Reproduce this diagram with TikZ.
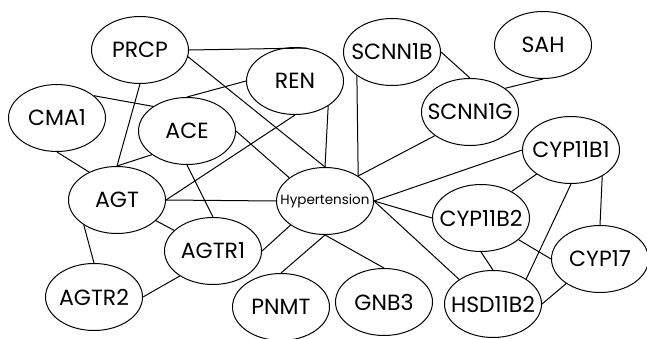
\documentclass[tikz,border=0pt]{standalone}
\usepackage{fontspec}
\usetikzlibrary{shapes.geometric}
\newfontfamily\gothic{Poppins}

\begin{document}
\begin{tikzpicture}[
		x=1pt, y=-1pt,
		gene/.style={ellipse, draw, line width=1pt, minimum width=97pt, minimum height=67pt, inner xsep=-20pt, inner ysep=0pt, font={\gothic\fontsize{22}{25}\selectfont}},
		disease/.style={gene, font={\gothic\fontsize{13.5}{16}\selectfont}},
		link/.style={line width=1pt}
		]
		\useasboundingbox (0,0) rectangle (647,339);
		% Central node
		\node[disease] (hyp) at (325,201) {Hypertension};
		% Genes
		\node[gene] (prcp) at (140,50) {PRCP};
		\node[gene] (ren) at (295,81) {REN};
		\node[gene] (cma1) at (57,118) {CMA1};
		\node[gene] (ace) at (187,131) {ACE};
		\node[gene] (agt) at (117,200) {AGT};
		\node[gene] (agtr1) at (213,251) {AGTR1};
		\node[gene] (agtr2) at (94,297) {AGTR2};
		\node[gene] (pnmt) at (281,307) {PNMT};
		\node[gene] (gnb3) at (384,302) {GNB3};
		\node[gene] (hsd) at (493,304) {HSD11B2};
		\node[gene] (cyp17) at (600,259) {CYP17};
		\node[gene] (cyp11b2) at (481,218) {CYP11B2};
		\node[gene] (cyp11b1) at (571,150) {CYP11B1};
		\node[gene] (scnn1g) at (470,112) {SCNN1G};
		\node[gene] (scnn1b) at (392,52) {SCNN1B};
		\node[gene] (sah) at (543,45) {SAH};
		% Edges
		\draw[link] (prcp.east) -- (ren.70);
		\draw[link] (prcp.-8) -- (hyp.north);
		\draw[link] (prcp.south) -- (agt.north);
		\draw[link] (ren.west) -- (ace.north);
		\draw[link] (ren.south) -- (agt.east);
		\draw[link] (ren.-37) -- (hyp.north);
		\draw[link] (cma1.31) -- (ace.144);
		\draw[link] (cma1.south) -- (agt.135);
		\draw[link] (ace.214) -- (agt.north);
		\draw[link] (ace.south) -- (agtr1.north);
		\draw[link] (ace.east) -- (hyp.147);
		\draw[link] (agt.east) -- (hyp.west);
		\draw[link] (agt) -- (agtr1);
		\draw[link] (agt.-143) -- (agtr2.north);
		\draw[link] (agtr2.east) -- (agtr1.217);
		\draw[link] (agtr1.east) -- (hyp.215);
		\draw[link] (pnmt.north) -- (hyp.south);
		\draw[link] (gnb3.north) -- (hyp.south);
		\draw[link] (hsd.144) -- (hyp.east);
		\draw[link] (cyp11b2.west) -- (hyp.east);
		\draw[link] (cyp11b1.west) -- (hyp.east);
		\draw[link] (scnn1g.214) -- (hyp.37);
		\draw[link] (scnn1b.214) -- (hyp.37);
		\draw[link] (scnn1b.east) -- (scnn1g.north);
		\draw[link] (sah.south) -- (scnn1g.34);
		\draw[link] (cyp11b1.215) -- (cyp11b2.41);
		\draw[link] (cyp11b1.south) -- (hsd.37);
		\draw[link] (cyp11b1.-40) -- (cyp17.north);
		\draw[link] (cyp11b2.-30) -- (cyp17.west);
		\draw[link] (cyp11b2.south) -- (hsd.north);
		\draw[link] (hsd.east) -- (cyp17.216);
		\end{tikzpicture}
\end{document}
